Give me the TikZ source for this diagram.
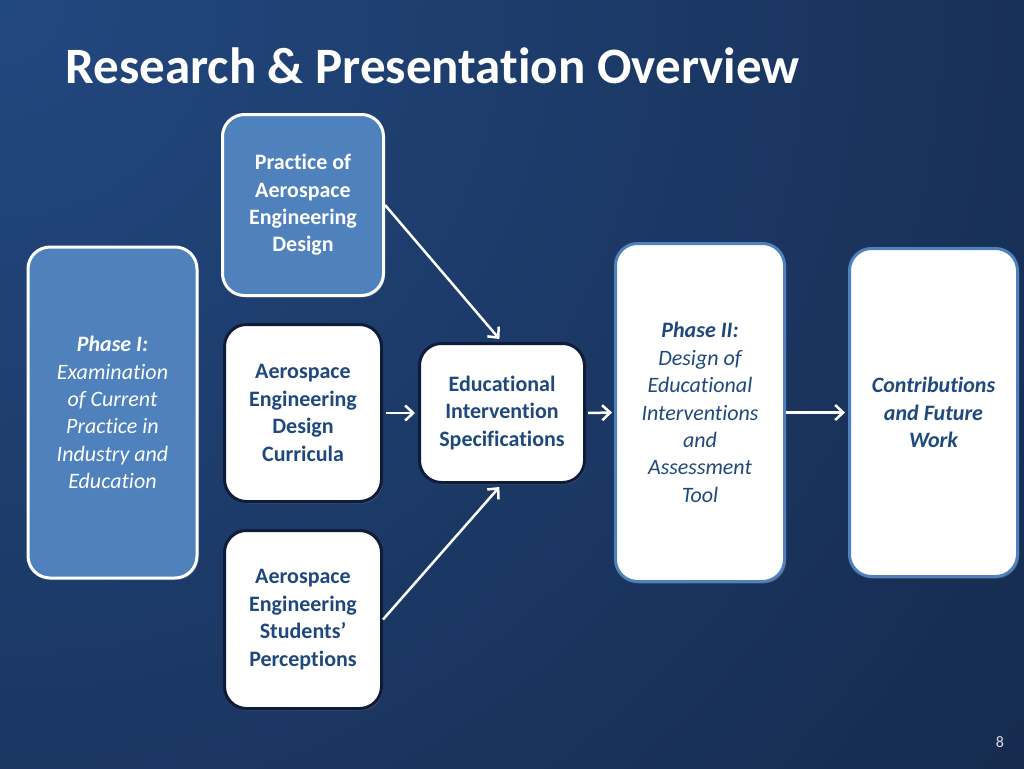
\documentclass[tikz,border=0pt]{standalone}
\usepackage{fontspec}
\setmainfont{Carlito}[Ligatures=NoCommon]
\usetikzlibrary{arrows.meta,shadows}
\definecolor{bgtop}{RGB}{34,72,128}
\definecolor{bgbot}{RGB}{17,31,58}
\definecolor{boxblue}{RGB}{79,129,189}
\definecolor{textnavy}{RGB}{31,73,125}
\definecolor{rimnavy}{RGB}{14,28,56}
\begin{document}
\begin{tikzpicture}[x=1pt,y=-1pt,
  >={Straight Barb[length=8pt,width=15pt]},
  card/.style={rounded corners=22pt,line width=3pt,align=center,inner sep=0pt,
    font=\fontsize{22}{27.4}\selectfont\bfseries,
    drop shadow={opacity=0.35,shadow xshift=1.5pt,shadow yshift=-2pt}},
  bluecard/.style={card,fill=boxblue,draw=white,text=white},
  whitecard/.style={card,fill=white,draw=rimnavy,text=textnavy},
  rimcard/.style={card,fill=white,draw=boxblue,text=textnavy},
  link/.style={->,white,line width=2.5pt}]
  \useasboundingbox (0,0) rectangle (1024,768);
  \begin{scope}
    \clip (0,0) rectangle (1024,768);
    \shade[inner color=bgtop,outer color=bgbot] (0,0) circle (1800);
  \end{scope}
  \node[anchor=base west,text=white,font=\fontsize{51}{60}\selectfont\bfseries] (title) at (62,83) {Research \& Presentation Overview};
  \node[bluecard,minimum width=169pt,minimum height=331pt,font=\fontsize{22}{27.4}\selectfont\itshape] (phaseone) at (112.5,412.5)
    {\textbf{Phase I:}\\Examination\\of Current\\Practice in\\Industry and\\Education};
  \node[bluecard,minimum width=161pt,minimum height=181pt] (practice) at (303,205) {Practice of\\Aerospace\\Engineering\\Design};
  \node[whitecard,minimum width=157pt,minimum height=177pt] (curricula) at (303,413) {Aerospace\\Engineering\\Design\\Curricula};
  \node[whitecard,minimum width=157pt,minimum height=178pt] (perceptions) at (303,619.5) {Aerospace\\Engineering\\Students’\\Perceptions};
  \node[whitecard,minimum width=165pt,minimum height=139pt] (specs) at (502,413) {Educational\\Intervention\\Specifications};
  \node[rimcard,minimum width=169pt,minimum height=338pt,font=\fontsize{22}{27.4}\selectfont\itshape] (phasetwo) at (700,412.5)
    {\textbf{Phase II:}\\Design of\\Educational\\Interventions\\and\\Assessment\\Tool};
  \node[rimcard,minimum width=168pt,minimum height=328pt,font=\fontsize{22}{27.4}\selectfont\bfseries\itshape] (future) at (933.5,412.5)
    {Contributions\\and Future\\Work};
  \node[anchor=base,text=white!85!bgbot,font=\fontsize{16}{19}\selectfont] (pagenum) at (1000,747) {8};
  \draw[link,shorten >=4pt] (practice.east) -- (specs.north);
  \draw[link,shorten >=4pt] (perceptions.east) -- (specs.south);
  \draw[link,shorten <=3pt,shorten >=3pt] (curricula.east) -- (specs.west);
  \draw[link,shorten <=2pt,shorten >=2pt] (specs.east) -- (phasetwo.west);
  \draw[link,shorten >=3pt] (phasetwo.east) -- (future.west);
\end{tikzpicture}
\end{document}
